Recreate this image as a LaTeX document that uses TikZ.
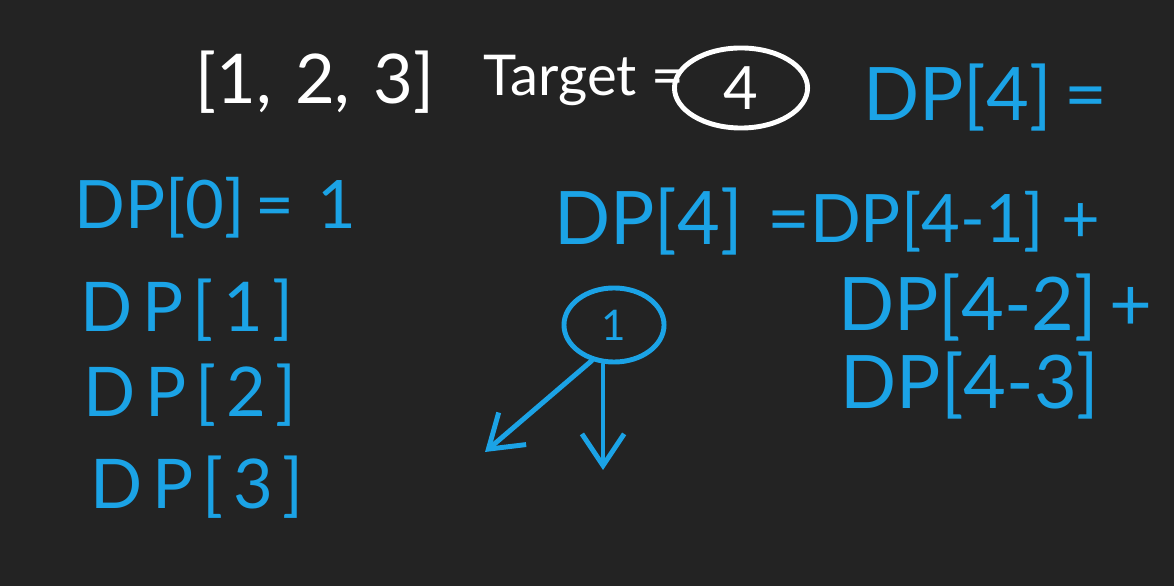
\documentclass[tikz,border=0pt]{standalone}
\usepackage{fontspec}
\setmainfont{Lato}
\usetikzlibrary{shapes.geometric,arrows.meta}
\definecolor{bg}{RGB}{35,35,35}
\definecolor{pen}{RGB}{27,163,230}
\tikzset{
  wtext/.style={text=white,inner sep=0pt,font=\fontsize{19.5}{21}\selectfont},
  btext/.style={text=pen,inner sep=0pt,font=\fontsize{19}{21}\selectfont},
  bwide/.style={text=pen,inner sep=0pt,font=\fontsize{19.5}{21}\selectfont\addfontfeatures{LetterSpace=14}},
  bbig/.style={text=pen,inner sep=0pt,font=\fontsize{21}{23}\selectfont},
  penline/.style={draw=pen,line width=1.4pt,line cap=round},
  tip/.style={-{Straight Barb[length=9pt,width=12pt,line width=1.4pt]}}
}
\begin{document}
\begin{tikzpicture}[x=0.01cm,y=-0.01cm]
\fill[bg] (0,0) rectangle (1174,586);
\useasboundingbox (0,0) rectangle (1174,586);
% top row
\node[wtext] (arr) at (315,82) {[1,\,\,2,\,\,3]};
\node[text=white,inner sep=0pt,font=\fontsize{16}{18}\selectfont] (tgt) at (584,80) {Target =};
\node[ellipse,draw=white,line width=1.4pt,minimum width=1.33cm,minimum height=0.8cm,inner sep=0pt,text=white,font=\fontsize{17}{19}\selectfont] (four) at (741,88) {4};
\node[bbig] (dp4top) at (985,98) {DP[4]\,=};
% left column
\node[btext] (dp0) at (215,208) {DP[0]\,=\,\,1};
\node[bwide] (dp1) at (187,310) {DP[1]};
\node[bwide] (dp2) at (190,395) {DP[2]};
\node[bwide] (dp3) at (197,487) {DP[3]};
% recurrence
\node[bbig] (dp4) at (682,222) {DP[4]\,\,=};
\node[text=pen,inner sep=0pt,font=\fontsize{19}{21}\selectfont] (dp41) at (955,222) {DP[4-1] +};
\node[bbig] (dp42) at (995,308) {DP[4-2]\,+};
\node[bbig] (dp43) at (970,386) {DP[4-3]};
% tree
\node[ellipse,penline,minimum width=1cm,minimum height=0.74cm,inner sep=0pt,text=pen,font=\fontsize{12}{14}\selectfont] (root) at (614,325) {1};
\coordinate (leftend) at (485,452);
\coordinate (downend) at (603,470);
\draw[penline,tip] (root.238) -- (leftend);
\draw[penline,tip] (root.south -| downend) -- (downend);
\end{tikzpicture}
\end{document}
